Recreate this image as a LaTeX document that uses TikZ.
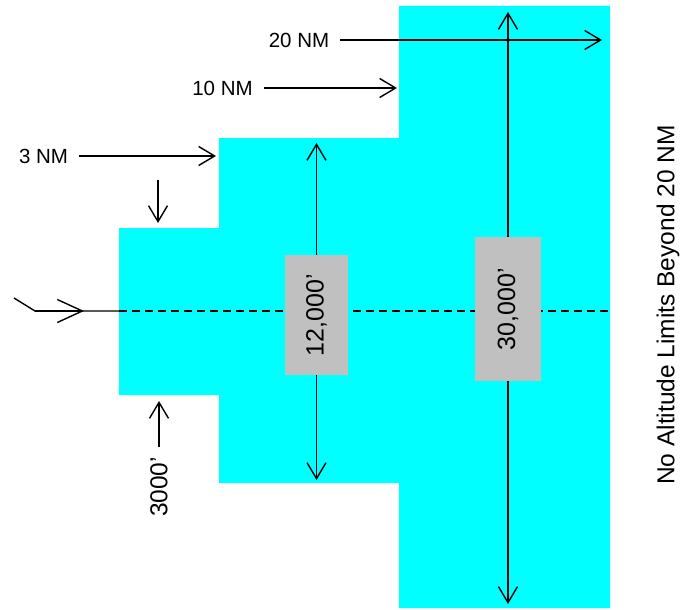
\documentclass[tikz,border=0pt]{standalone}
\usepackage{fontspec}
\setmainfont{Liberation Sans}
\usetikzlibrary{arrows.meta,positioning}
\definecolor{boxgray}{RGB}{192,192,192}
\definecolor{zonecyan}{RGB}{0,255,255}
\tikzset{
  arr/.style={
    line width=1.4pt,
    -{Straight Barb[length=16pt,width=19pt,line width=1.4pt]}
  },
  bigarr/.style={
    line width=1.4pt,
    -{Straight Barb[length=25pt,width=23pt,line width=1.4pt]}
  },
  nm/.style={
    font=\fontsize{20.5}{24}\selectfont,
    inner sep=2pt
  },
  alt/.style={
    shape = rectangle,
    fill=boxgray,
    rotate=90,
    font=\fontsize{25}{30}\selectfont
  },
  side/.style={
    rotate=90,
    font=\fontsize{24.5}{30}\selectfont
  },
}

\begin{document}
\begin{tikzpicture}[x=1pt,y=-1pt]
\useasboundingbox (0,0) rectangle (685,610);
% airspace
\fill[zonecyan] (119,228) -| (219,138) -| (399,6) -| (610,608) -| (399,483) -| (219,395) -| (119,228) -- cycle;
% approach path
\coordinate (l0) at (14,298);
\coordinate (l1) at (35,311);
\coordinate (l2) at (84,311);
\coordinate (l3) at (119,311);
\coordinate (r3) at (610,311);
\draw[line width=1.4pt] (l0) -- (l1) -- (l3);
\draw[bigarr] (l1) -- (l2);
\draw[line width=1.4pt, dash pattern=on 8pt off 5pt] (l3) -- (r3);
% ranges
\foreach \n/\x/\y/\e in {3/43.5/156/216, 10/222.5/88/397, 20/299/40/602}{
  \node[nm] (nm\n) at (\x,\y) {\n\ NM};
  \coordinate (nme\n) at (\e,\y);
  \draw[arr, shorten <=9pt] (nm\n.east) -- (nme\n); }
% altitudes
\coordinate (d0) at (158,180);
\coordinate (d1) at (158,223);
\draw[arr] (d0) -- (d1);
\node[side] (t3000) at (159,487) {3000'};
\coordinate (c3000) at (159,401);
\draw[arr, shorten <=6pt] (t3000.east) -- (c3000);
\node[alt, minimum width=120pt, minimum height=63pt] (b12) at (316.5,315) {12,000'};
\coordinate (b12a) at (316.5,143);
\coordinate (b12b) at (316.5,480);
\draw[arr] (b12) -- (b12a);
\draw[arr] (b12) -- (b12b);
\node[alt, minimum width=144pt, minimum height=66pt] (b30) at (508,309) {30,000'};
\coordinate (b30a) at (508,12);
\coordinate (b30b) at (508,604);
\draw[arr] (b30) -- (b30a);
\draw[arr] (b30) -- (b30b);
\node[side] (lim) at (668,305) {No Altitude Limits Beyond 20 NM};
\end{tikzpicture}
\end{document}
